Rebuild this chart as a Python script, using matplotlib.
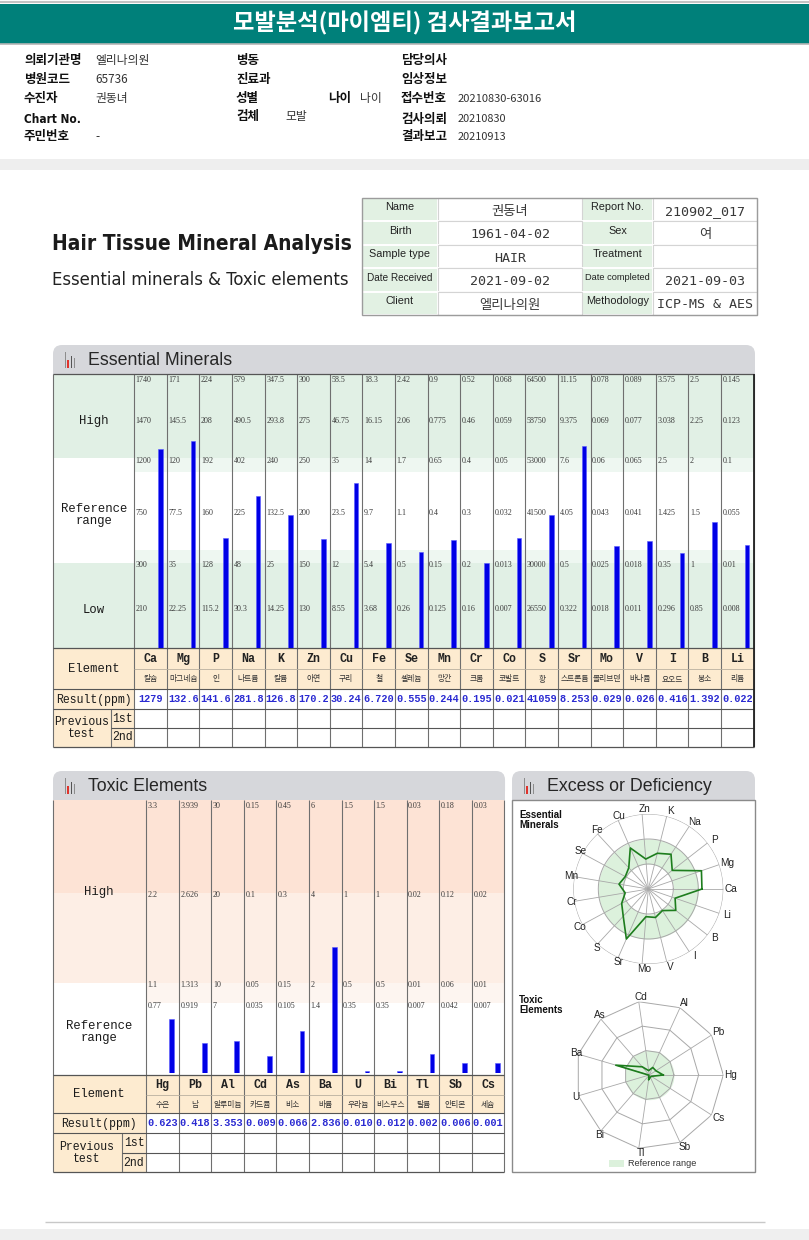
import numpy as np
import matplotlib
matplotlib.use("Agg")
import matplotlib.pyplot as plt
from matplotlib.patches import Rectangle, FancyBboxPatch
from matplotlib.transforms import offset_copy
from matplotlib import font_manager as fm

# ---------------- data ----------------
ess_elements = ["Ca", "Mg", "P", "Na", "K", "Zn", "Cu", "Fe", "Se", "Mn",
                "Cr", "Co", "S", "Sr", "Mo", "V", "I", "B", "Li"]
ess_korean = ["칼슘", "마그네슘", "인", "나트륨", "칼륨", "아연", "구리", "철", "셀레늄", "망간",
              "크롬", "코발트", "황", "스트론튬", "몰리브덴", "바나듐", "요오드", "붕소", "리튬"]
# reference rows, top (highest) to bottom
ess_ref1 = [1740, 171, 224, 579, 347.5, 300, 58.5, 18.3, 2.42, 0.9, 0.52, 0.068, 64500, 11.15, 0.078, 0.089, 3.575, 2.5, 0.145]
ess_ref2 = [1470, 145.5, 208, 490.5, 293.8, 275, 46.75, 16.15, 2.06, 0.775, 0.46, 0.059, 58750, 9.375, 0.069, 0.077, 3.038, 2.25, 0.123]
ess_ref3 = [1200, 120, 192, 402, 240, 250, 35, 14, 1.7, 0.65, 0.4, 0.05, 53000, 7.6, 0.06, 0.065, 2.5, 2, 0.1]
ess_ref4 = [750, 77.5, 160, 225, 132.5, 200, 23.5, 9.7, 1.1, 0.4, 0.3, 0.032, 41500, 4.05, 0.043, 0.041, 1.425, 1.5, 0.055]
ess_ref5 = [300, 35, 128, 48, 25, 150, 12, 5.4, 0.5, 0.15, 0.2, 0.013, 30000, 0.5, 0.025, 0.018, 0.35, 1, 0.01]
ess_ref6 = [210, 22.25, 115.2, 30.3, 14.25, 130, 8.55, 3.68, 0.26, 0.125, 0.16, 0.007, 26550, 0.322, 0.018, 0.011, 0.296, 0.85, 0.008]
ess_result = ["1279", "132.6", "141.6", "281.8", "126.8", "170.2", "30.24", "6.720", "0.555", "0.244",
              "0.195", "0.021", "41059", "8.253", "0.029", "0.026", "0.416", "1.392", "0.022"]

tox_elements = ["Hg", "Pb", "Al", "Cd", "As", "Ba", "U", "Bi", "Tl", "Sb", "Cs"]
tox_korean = ["수은", "납", "알루미늄", "카드뮴", "비소", "바륨", "우라늄", "비스무스", "탈륨", "안티몬", "세슘"]
tox_ref1 = [3.3, 3.939, 30, 0.15, 0.45, 6, 1.5, 1.5, 0.03, 0.18, 0.03]
tox_ref2 = [2.2, 2.626, 20, 0.1, 0.3, 4, 1, 1, 0.02, 0.12, 0.02]
tox_ref3 = [1.1, 1.313, 10, 0.05, 0.15, 2, 0.5, 0.5, 0.01, 0.06, 0.01]
tox_ref4 = [0.77, 0.919, 7, 0.035, 0.105, 1.4, 0.35, 0.35, 0.007, 0.042, 0.007]
tox_result = ["0.623", "0.418", "3.353", "0.009", "0.066", "2.836", "0.010", "0.012", "0.002", "0.006", "0.001"]

info_labels_left = ["Name", "Birth", "Sample type", "Date Received", "Client"]
info_values_left = ["권동녀", "1961-04-02", "HAIR", "2021-09-02", "엘리나의원"]
info_labels_right = ["Report No.", "Sex", "Treatment", "Date completed", "Methodology"]
info_values_right = ["210902_017", "여", "", "2021-09-03", "ICP-MS & AES"]

# ---------------- page ----------------
W, H = 809, 1240
fig = plt.figure(figsize=(W / 100, H / 100), dpi=100)
fig.patch.set_facecolor("white")
page = fig.add_axes([0, 0, 1, 1])
page.set_xlim(0, W)
page.set_ylim(H, 0)
page.axis("off")
RND = fig.canvas.get_renderer()

KR = ["Noto Sans CJK KR", "DejaVu Sans"]
SANS = ["Liberation Sans", "DejaVu Sans"]
MONO = ["Liberation Mono", "DejaVu Sans Mono"]
VMONO = ["DejaVu Sans Mono", "Noto Sans CJK KR"]
SERIF = ["Liberation Serif", "DejaVu Serif"]

# pick the narrowest sans family available for the big title
_fonts = fm.fontManager.ttflist
_names = {f.name for f in _fonts}
if "Liberation Sans Narrow" in _names:
    NARROW, NSTRETCH = ["Liberation Sans Narrow"], "normal"
elif any(f.name == "DejaVu Sans" and f.stretch in ("condensed", "semi-condensed") for f in _fonts):
    NARROW, NSTRETCH = ["DejaVu Sans"], "condensed"
elif "DejaVu Sans Condensed" in _names:
    NARROW, NSTRETCH = ["DejaVu Sans Condensed"], "normal"
else:
    NARROW, NSTRETCH = ["Liberation Sans"], "normal"


def ax_rect(x0, y0, x1, y1):
    return [x0 / W, 1 - y1 / H, (x1 - x0) / W, (y1 - y0) / H]


def box(x0, y0, x1, y1, fc, ec="none", lw=0.0, z=1):
    page.add_patch(Rectangle((x0, y0), x1 - x0, y1 - y0, facecolor=fc,
                             edgecolor=ec, linewidth=lw, zorder=z))


def hline(y, x0, x1, c="#6e6e6e", lw=0.8, z=2):
    page.plot([x0, x1], [y, y], color=c, lw=lw, zorder=z, solid_capstyle="butt")


def vline(x, y0, y1, c="#6e6e6e", lw=0.8, z=2):
    page.plot([x, x], [y0, y1], color=c, lw=lw, zorder=z, solid_capstyle="butt")


def text(x, y, s, size, family=KR, weight="normal", color="#222222",
         ha="left", va="center", fitw=None, **kw):
    t = page.text(x, y, s, fontsize=size, family=family, fontweight=weight,
                  color=color, ha=ha, va=va, zorder=5, **kw)
    if fitw and s.strip():
        bb = t.get_window_extent(RND)
        if bb.width > 0:
            t.set_fontsize(size * fitw / bb.width)
    return t


# ---------- top header ----------
hline(1.5, 0, W, c="#c4c4c4", lw=1.5)
box(0, 4, W, 43.5, "#00807a")
hline(44.3, 0, W, c="#b5b5b5", lw=1.2)
text(404.5, 23.5, "모발분석(마이엠티) 검사결과보고서", 14, weight="bold",
     color="white", ha="center", fitw=344)

LB = dict(size=9, weight="bold", color="#111111")
VL = dict(size=8.5, color="#333333")
text(24, 60.5, "의뢰기관명", **LB)
text(95, 60.5, "엘리나의원", **VL)
text(24, 79.5, "병원코드", **LB)
text(95, 79.5, "65736", **VL)
text(24, 98.5, "수진자", **LB)
text(95, 98.5, "권동녀", **VL)
text(24, 119.5, "Chart No.", 9, family=NARROW, weight="bold", color="#111111", fitw=57,
     fontstretch=NSTRETCH)
text(24, 136.5, "주민번호", **LB)
text(95, 136.5, "-", **VL)
text(236, 60.5, "병동", **LB)
text(236, 79.5, "진료과", **LB)
text(236, 98.5, "성별", **LB)
text(236, 116.5, "검체", **LB)
text(285, 116.5, "모발", **VL)
text(328, 98.5, "나이", **LB)
text(360, 98.5, "나이", **VL)
text(401, 60.5, "담당의사", **LB)
text(401, 79.5, "임상정보", **LB)
text(401, 98.5, "접수번호", **LB)
text(458, 98.5, "20210830-63016", 8.5, color="#333333", fitw=85)
text(401, 119.5, "검사의뢰", **LB)
text(458, 119.5, "20210830", 8.5, color="#333333", fitw=49)
text(401, 136.5, "결과보고", **LB)
text(458, 136.5, "20210913", 8.5, color="#333333", fitw=49)

box(0, 159, W, 170, "#eeeeee")

# ---------- title ----------
text(52, 244, "Hair Tissue Mineral Analysis", 20, family=NARROW, weight="bold",
     color="#1b1b1b", fitw=299, fontstretch=NSTRETCH)
text(52, 280, "Essential minerals & Toxic elements", 14, family=NARROW,
     color="#222222", fitw=299, fontstretch=NSTRETCH)

# ---------- info table ----------
icols = [362, 438, 582, 653, 757]
irows = [197.5, 221, 244.5, 268, 291.5, 314.5]
for i in range(5):
    for j in (0, 2):
        box(icols[j], irows[i], icols[j + 1], irows[i + 1], "#e2f1e3", ec="white", lw=1.4)
    for j in (1, 3):
        box(icols[j], irows[i], icols[j + 1], irows[i + 1], "white", ec="#d4d4d4", lw=0.8)
box(icols[0], irows[0], icols[-1], irows[-1], "none", ec="#9c9c9c", lw=1.0, z=3)
for i in range(5):
    yc = (irows[i] + irows[i + 1]) / 2
    for lab, x0, x1 in ((info_labels_left[i], icols[0], icols[1]),
                        (info_labels_right[i], icols[2], icols[3])):
        fw = 66 if lab.startswith("Date") else None
        text((x0 + x1) / 2, yc - 2, lab, 7.8, family=SANS, color="#222222",
             ha="center", fitw=fw)
    for val, x0, x1 in ((info_values_left[i], icols[1], icols[2]),
                        (info_values_right[i], icols[3], icols[4])):
        text((x0 + x1) / 2, yc + 2, val, 9.6, family=VMONO, color="#383838", ha="center")


# ---------- section banner ----------
def banner(x0, y0, x1, y1, title, tw):
    page.add_patch(FancyBboxPatch((x0, y0), x1 - x0, y1 - y0,
                                  boxstyle="round,pad=0,rounding_size=9",
                                  fc="#d6d7db", ec="none", zorder=1))
    box(x0, y0 + 12, x1, y1, "#d6d7db")
    ix = x0 + 12
    box(ix, y0 + 7, ix + 1.3, y1 - 6, "#8d8d8d", z=3)
    box(ix + 2.4, y0 + 15, ix + 4.2, y1 - 6, "#e0332c", z=3)
    box(ix + 5.6, y0 + 11, ix + 7.3, y1 - 6, "#555555", z=3)
    box(ix + 8.7, y0 + 13, ix + 10.4, y1 - 6, "#8d8d8d", z=3)
    text(x0 + 35, (y0 + y1) / 2 + 1, title, 12.5, family=SANS, color="#262626", fitw=tw)


GREEN = "#e1f0e5"
GREEN_L = "#eef7f1"
TAN = "#fdebd0"
GRID = "#6f6f6f"
BLUE_BAR = "#0000e6"
BLUE_TXT = "#2a2ad2"

# =============== Essential minerals ===============
EX0, EXL, ECW = 53, 134.3, 32.6
ne = len(ess_elements)
EX1 = EXL + ECW * ne
ETOP, EBOT = 374, 648
banner(EX0, 345, 755, ETOP, "Essential Minerals", 144)

box(EX0, ETOP, EX1, 458, GREEN)
box(EXL, 458, EX1, 472, GREEN_L)
box(EXL, 550, EX1, 563, GREEN_L)
box(EX0, 563, EX1, EBOT, GREEN)

# element table
box(EX0, EBOT, EX1, 689, TAN)
box(EX0, 689, EXL, 709, TAN)
box(EX0, 709, EXL, 747, TAN)

ess_refs = np.array([ess_ref1, ess_ref2, ess_ref3, ess_ref4, ess_ref5, ess_ref6], float)
ess_vals = np.array(ess_result, float)
ref_text_y = [380, 421, 461, 513, 565, 609]
for i in range(ne):
    xl = EXL + ECW * i
    xc = xl + ECW / 2
    for r in range(6):
        text(xl + 1.5, ref_text_y[r], f"{ess_refs[r, i]:g}", 5.8, family=SERIF, color="#3a3a3a")
    text(xc, 659, ess_elements[i], 8.4, family=MONO, weight="bold", color="#222222", ha="center")
    text(xc, 679.5, ess_korean[i], 5.6, color="#333333", ha="center")
    text(xc, 699.5, ess_result[i], 7.4, family=MONO, weight="bold", color=BLUE_TXT, ha="center")

text(94, 421, "High", 8.8, family=MONO, color="#1a1a1a", ha="center")
text(94, 515, "Reference\nrange", 8.8, family=MONO, color="#1a1a1a", ha="center", linespacing=0.9)
text(94, 610, "Low", 8.8, family=MONO, color="#1a1a1a", ha="center")
text(94, 669, "Element", 8.8, family=MONO, color="#1a1a1a", ha="center")
text(94, 699.5, "Result(ppm)", 8.3, family=MONO, color="#1a1a1a", ha="center")
text(82, 728, "Previous\ntest", 8.3, family=MONO, color="#1a1a1a", ha="center", linespacing=1.0)
text(122.5, 718.5, "1st", 8.3, family=MONO, color="#1a1a1a", ha="center")
text(122.5, 737.5, "2nd", 8.3, family=MONO, color="#1a1a1a", ha="center")

for i in range(ne + 1):
    vline(EXL + ECW * i, ETOP, 747, c=GRID, lw=0.8)
vline(EX1, ETOP, 747, c="#222222", lw=1.3, z=3)
vline(EX0, ETOP, 747, c=GRID, lw=0.8)
vline(111, 709, 747, c=GRID, lw=0.8)
hline(ETOP, EX0, EX1, c="#555555", lw=0.9)
hline(EBOT, EX0, EX1, c="#555555", lw=0.9)
hline(669, EXL, EX1, c="#b9b0a0", lw=0.6)
hline(689, EX0, EX1, c="#555555", lw=0.8)
hline(709, EX0, EX1, c="#555555", lw=0.8)
hline(728, 111, EX1, c="#555555", lw=0.8)
hline(747, EX0, EX1, c="#555555", lw=0.9)

# bars: each value normalised onto the shared reference-row levels
ess_levels = np.arange(7.0)
ess_pos = np.array([0, 39, 92, 135, 187, 227, 268.0])  # row heights above the floor
ess_lvl = np.array([np.interp(v, np.r_[0, ess_refs[::-1, i]], ess_levels)
                    for i, v in enumerate(ess_vals)])
axE = fig.add_axes(ax_rect(EXL, EBOT - ess_pos[-1], EX1, EBOT))
axE.set_yscale("function", functions=(lambda v: np.interp(v, ess_levels, ess_pos),
                                       lambda p: np.interp(p, ess_pos, ess_levels)))
axE.bar(np.arange(ne) + 0.3, ess_lvl, width=0.14, color=BLUE_BAR, edgecolor="#5a5aff", linewidth=0.4)
axE.set_xlim(-0.5, ne - 0.5)
axE.set_ylim(0, 6)
axE.axis("off")
axE.patch.set_alpha(0)

# =============== Toxic elements ===============
TX0, TXL, TCW = 53, 146.3, 32.55
nt = len(tox_elements)
TX1 = TXL + TCW * nt
TTOP, TBOT = 800, 1075
banner(TX0, 771, TX1 + 0.7, TTOP, "Toxic Elements", 120)

box(TX0, TTOP, TX1, 893, "#fde3d5")
box(TX0, 893, TX1, 983, "#fdeee5")
box(TXL, 983, TX1, 1003, "#fdf5f0")
box(TX0, TBOT, TX1, 1113, TAN)
box(TX0, 1113, TXL, 1133, TAN)
box(TX0, 1133, TXL, 1172, TAN)

tox_refs = np.array([tox_ref1, tox_ref2, tox_ref3, tox_ref4], float)
tox_vals = np.array(tox_result, float)
tref_y = [806, 895, 985, 1006.5]
for i in range(nt):
    xl = TXL + TCW * i
    xc = xl + TCW / 2
    for r in range(4):
        text(xl + 1.5, tref_y[r], f"{tox_refs[r, i]:g}", 5.8, family=SERIF, color="#3a3a3a")
    text(xc, 1085, tox_elements[i], 8.4, family=MONO, weight="bold", color="#222222", ha="center")
    text(xc, 1104.5, tox_korean[i], 5.6, color="#333333", ha="center")
    text(xc, 1123.5, tox_result[i], 7.4, family=MONO, weight="bold", color=BLUE_TXT, ha="center")

text(99, 892, "High", 8.8, family=MONO, color="#1a1a1a", ha="center")
text(99, 1032, "Reference\nrange", 8.8, family=MONO, color="#1a1a1a", ha="center", linespacing=0.9)
text(99, 1094, "Element", 8.8, family=MONO, color="#1a1a1a", ha="center")
text(99, 1123.5, "Result(ppm)", 8.3, family=MONO, color="#1a1a1a", ha="center")
text(87, 1152.5, "Previous\ntest", 8.3, family=MONO, color="#1a1a1a", ha="center", linespacing=1.0)
text(134, 1143.5, "1st", 8.3, family=MONO, color="#1a1a1a", ha="center")
text(134, 1163, "2nd", 8.3, family=MONO, color="#1a1a1a", ha="center")

for i in range(nt + 1):
    vline(TXL + TCW * i, TTOP, 1172, c=GRID, lw=0.8)
vline(TX0, TTOP, 1172, c=GRID, lw=0.8)
vline(121.7, 1133, 1172, c=GRID, lw=0.8)
hline(TBOT, TX0, TX1, c="#555555", lw=0.9)
hline(1095, TXL, TX1, c="#b9b0a0", lw=0.6)
hline(1113, TX0, TX1, c="#555555", lw=0.8)
hline(1133, TX0, TX1, c="#555555", lw=0.8)
hline(1153, 121.7, TX1, c="#555555", lw=0.8)
hline(1172, TX0, TX1, c="#555555", lw=0.9)

tox_levels = np.arange(5.0)
tox_pos = np.array([0, 67, 88, 178, 267.0])
tox_lvl = np.array([np.interp(v, np.r_[0, tox_refs[::-1, i]], tox_levels)
                    for i, v in enumerate(tox_vals)])
axT = fig.add_axes(ax_rect(TXL, 1073 - tox_pos[-1], TX1, 1073))
axT.set_yscale("function", functions=(lambda v: np.interp(v, tox_levels, tox_pos),
                                       lambda p: np.interp(p, tox_pos, tox_levels)))
axT.bar(np.arange(nt) + 0.28, tox_lvl, width=0.145, color=BLUE_BAR, edgecolor="#5a5aff", linewidth=0.4)
axT.set_xlim(-0.5, nt - 0.5)
axT.set_ylim(0, 4)
axT.axis("off")
axT.patch.set_alpha(0)

# =============== Excess or deficiency ===============
banner(512, 771, 755, 800, "Excess or Deficiency", 165)
box(512, 800, 755, 1172, "white", ec="#8a8a8a", lw=1.0)
text(519, 820, "Essential\nMinerals", 7.0, family=SANS, weight="bold", color="#111111",
     linespacing=0.95)
text(519, 1005, "Toxic\nElements", 7.0, family=SANS, weight="bold", color="#111111",
     linespacing=0.95)
box(609, 1160, 624, 1167, "#dcf1dc", z=2)
text(628, 1163.5, "Reference range", 6.6, family=SANS, color="#333333")

GRID_R = "#a8a8a8"
FILL_R = "#dcf1dc"
LINE_R = "#1d7d1d"


def radar(cx, cy, R, labels, frac, fill_lo, fill_hi, circular):
    ax = fig.add_axes(ax_rect(cx - R, cy - R, cx + R, cy + R), projection="polar")
    ax.set_theta_zero_location("E")
    ax.set_theta_direction(1)
    ax.set_ylim(0, 1)
    ax.grid(False)
    ax.set_xticks([])
    ax.set_yticks([])
    ax.spines["polar"].set_visible(False)
    ax.patch.set_alpha(0)
    n = len(labels)
    ang = np.arange(n) * 2 * np.pi / n
    th = np.linspace(0, 2 * np.pi, 361)
    ax.fill_between(th, fill_lo, fill_hi, color=FILL_R, lw=0, zorder=1)
    for rr in (1 / 3, 2 / 3, 1.0):
        if circular:
            ax.plot(th, np.full_like(th, rr), color=GRID_R, lw=0.7, zorder=2)
        else:
            ax.plot(np.r_[ang, ang[0]], np.full(n + 1, rr), color=GRID_R, lw=0.7, zorder=2)
    for a in ang:
        ax.plot([a, a], [0, 1], color=GRID_R, lw=0.6, zorder=2)
    ax.plot(np.r_[ang, ang[0]], np.r_[frac, frac[0]], color=LINE_R, lw=1.2, zorder=4)
    tr = offset_copy(ax.transData, fig=fig, x=2.5, y=0, units="dots")
    for a, lab in zip(ang, labels):
        ax.text(a, 1.07, lab, transform=tr, fontsize=7.2, family=SANS,
                color="#222222", ha="center", va="center", clip_on=False, zorder=5)
    return ax


radar(648.3, 889, 75, ess_elements, ess_lvl / 6.0, 1 / 3, 2 / 3, True)
radar(649.3, 1075, 74, tox_elements, tox_vals / tox_refs[0], 0.0, 1 / 3, False)

# ---------- footer ----------
hline(1222, 45, 765, c="#c8c8c8", lw=1.0)
box(0, 1229, W, H, "#efefef")

fig.savefig("out.png", dpi=100, facecolor="white")
